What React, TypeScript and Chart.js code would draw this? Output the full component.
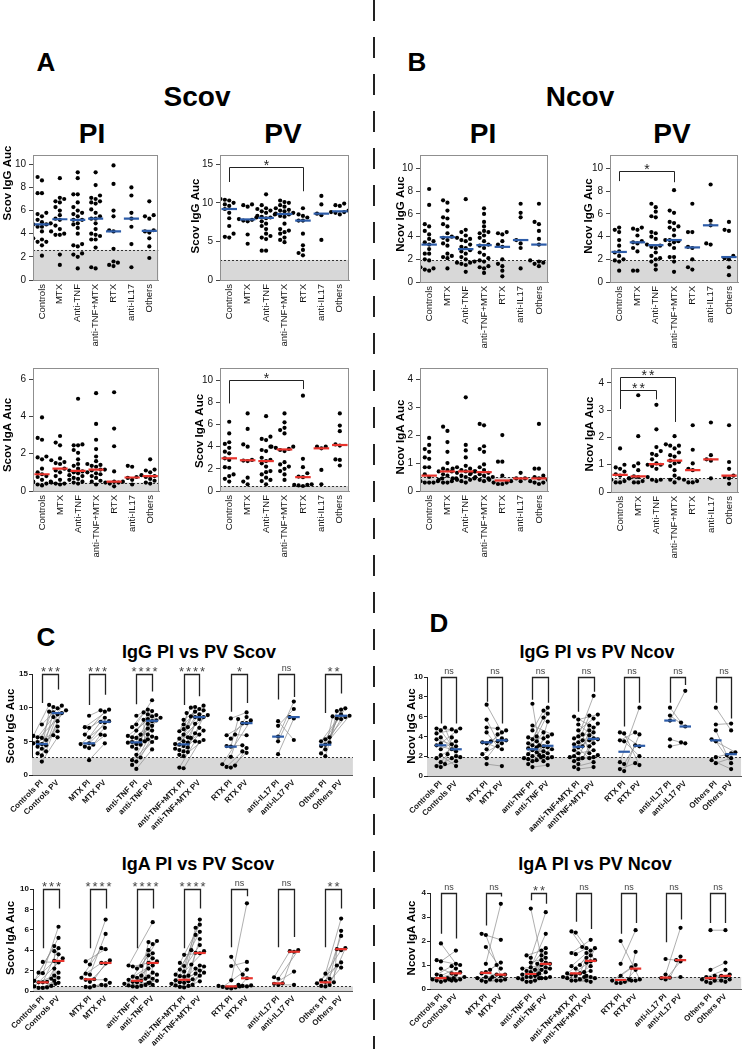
import React, { useEffect, useRef } from 'react';
import { Chart, registerables } from 'chart.js';

Chart.register(...registerables);

const FONT = '"Liberation Sans", Arial, Helvetica, sans-serif';
Chart.defaults.font.family = FONT;

// ---------- categories ----------
const groups = ['Controls', 'MTX', 'Anti-TNF', 'anti-TNF+MTX', 'RTX', 'anti-IL17', 'Others'];
const pairLabels = [
  'Controls PI', 'Controls PV', 'MTX PI', 'MTX PV', 'anti-TNF PI', 'anti-TNF PV',
  'anti-TNF+MTX PI', 'anti-TNF+MTX PV', 'RTX PI', 'RTX PV', 'anti-IL17 PI', 'anti-IL17 PV',
  'Others PI', 'Others PV',
];
const pairLabelsNcovIgG = [
  'Controls PI', 'Controls PV', 'MTX PI', 'MTX PV', 'anti-TNF PI', 'anti-TNF PV',
  'aanti-TNF+MTX PI', 'antiTNF+MTX PV', 'RTX PI', 'RTX PV', 'anti-IL17 PI', 'anti-IL17 PV',
  'Others PI', 'Others PV',
];

// ---------- A / B : per-group values ----------
const scovIgGPI = [
  [8.9, 8.6, 7.5, 7.5, 5.8, 5.7, 5.5, 5.2, 5.0, 4.9, 4.8, 4.8, 4.6, 4.6, 4.2, 3.6, 3.5, 3.3, 3.3, 3.0, 2.1],
  [8.8, 7.1, 7.0, 6.8, 6.7, 6.3, 6.0, 5.6, 5.3, 5.2, 4.7, 4.4, 4.2, 4.0, 3.9, 3.9, 2.2, 1.3],
  [9.3, 8.8, 7.4, 7.4, 6.7, 6.3, 6.0, 5.8, 5.7, 5.5, 5.2, 5.2, 4.9, 4.8, 4.5, 4.0, 3.1, 3.0, 2.9, 2.3, 2.2, 2.0, 1.0],
  [9.3, 8.2, 7.3, 7.1, 7.0, 6.8, 6.7, 6.6, 6.1, 5.8, 5.5, 5.3, 5.3, 4.9, 4.4, 4.0, 3.9, 3.8, 3.5, 3.5, 2.8, 1.1, 1.0],
  [9.9, 8.3, 6.0, 5.5, 4.3, 4.2, 2.7, 1.6, 1.5, 1.3, 1.2],
  [8.0, 7.3, 5.8, 5.3, 4.6, 3.1, 1.1],
  [6.8, 5.6, 5.5, 5.3, 4.3, 4.2, 4.1, 3.6, 2.9, 1.9],
];
const scovIgGPV = [
  [10.5, 10.4, 10.3, 10.0, 9.8, 9.6, 9.2, 8.7, 8.0, 7.0, 6.0, 5.6, 5.5],
  [9.8, 9.7, 9.5, 8.1, 7.9, 7.8, 7.7, 7.6, 5.9, 4.7],
  [11.1, 9.7, 9.3, 9.2, 9.0, 8.9, 8.7, 8.5, 8.3, 8.2, 8.1, 8.0, 7.6, 7.3, 7.0, 6.6, 6.0, 5.7, 5.5, 5.3, 3.8, 3.8],
  [10.3, 10.1, 10.0, 9.7, 9.5, 9.3, 9.1, 9.0, 8.9, 8.7, 8.6, 8.5, 8.3, 8.2, 7.3, 6.6, 6.4, 6.2, 6.0, 5.5, 5.2, 4.9],
  [9.3, 8.5, 8.3, 8.1, 7.7, 7.7, 6.0, 4.5, 3.9, 3.5, 3.2],
  [10.9, 9.8, 8.6, 8.4, 5.2],
  [9.9, 9.7, 9.6, 9.0, 8.8, 8.8, 8.7, 8.5],
];
const ncovIgGPI = [
  [8.2, 6.8, 5.1, 4.9, 4.5, 4.2, 3.8, 3.6, 3.5, 3.3, 2.9, 2.5, 2.5, 2.0, 1.9, 1.3, 1.2, 1.1, 1.0],
  [7.2, 7.0, 6.3, 5.7, 5.6, 5.1, 4.9, 4.3, 4.0, 3.9, 3.7, 3.4, 3.2, 2.5, 2.3, 2.2, 2.1, 1.2],
  [7.3, 4.6, 4.4, 4.1, 3.9, 3.8, 3.7, 3.6, 3.3, 3.1, 3.0, 2.8, 2.7, 2.5, 2.2, 2.0, 1.8, 1.7, 1.7, 1.6, 1.5, 0.9],
  [6.5, 6.0, 5.3, 4.9, 4.5, 4.4, 4.3, 4.1, 3.9, 3.6, 3.3, 3.2, 3.0, 2.6, 2.4, 2.1, 1.9, 1.8, 1.4, 1.3, 1.2, 0.8],
  [4.4, 4.3, 4.2, 3.6, 3.3, 3.1, 2.0, 1.6, 1.4, 1.0, 0.5],
  [6.9, 6.1, 5.7, 3.7, 3.4, 3.0, 1.2],
  [6.9, 5.3, 5.1, 4.5, 3.8, 3.3, 1.9, 1.8, 1.7, 1.6, 1.4],
];
const ncovIgGPV = [
  [4.8, 4.6, 4.4, 3.7, 3.2, 2.7, 2.6, 2.3, 2.0, 1.9, 1.8, 1.0],
  [4.8, 4.7, 4.6, 4.1, 3.6, 3.5, 3.4, 3.0, 2.7, 1.0, 1.0],
  [6.9, 6.6, 6.2, 5.8, 5.7, 4.4, 4.3, 4.0, 3.8, 3.3, 3.2, 3.1, 3.0, 2.6, 2.3, 2.1, 2.0, 1.8, 1.5, 1.1],
  [8.1, 6.3, 6.1, 5.3, 5.2, 4.9, 4.8, 4.6, 4.1, 3.7, 3.7, 3.6, 3.5, 3.3, 3.0, 2.2, 2.2, 1.8, 0.9],
  [6.9, 4.4, 4.4, 3.1, 3.0, 2.0, 1.3, 1.1],
  [8.6, 5.4, 5.0, 3.4, 3.3],
  [5.3, 4.6, 4.5, 2.3, 2.1, 2.0, 1.3, 0.6],
];
const scovIgAPI = [
  [3.95, 2.85, 2.75, 1.85, 1.8, 1.7, 1.2, 1.0, 0.9, 0.8, 0.75, 0.6, 0.5, 0.5, 0.4, 0.35, 0.3],
  [2.95, 2.6, 2.45, 1.75, 1.65, 1.55, 1.5, 1.45, 1.2, 1.1, 1.0, 0.8, 0.6, 0.45, 0.4, 0.4, 0.35],
  [4.95, 2.5, 2.45, 2.45, 2.2, 2.05, 1.7, 1.45, 1.35, 1.2, 1.1, 1.05, 1.0, 0.95, 0.85, 0.8, 0.7, 0.65, 0.6, 0.5, 0.45, 0.4],
  [5.25, 3.6, 2.75, 2.25, 1.85, 1.6, 1.45, 1.4, 1.35, 1.3, 1.15, 1.15, 1.1, 1.0, 0.95, 0.9, 0.8, 0.7, 0.55, 0.5, 0.35],
  [5.3, 3.35, 2.4, 1.05, 0.5, 0.5, 0.45, 0.45, 0.4, 0.25],
  [1.35, 1.3, 0.75, 0.7, 0.6, 0.35],
  [1.7, 1.15, 1.1, 1.0, 0.85, 0.8, 0.75, 0.65, 0.55, 0.45, 0.4],
];
const scovIgAPV = [
  [6.25, 5.2, 4.4, 4.25, 3.9, 3.55, 3.4, 2.95, 2.8, 2.15, 2.1, 1.5, 1.35, 1.1, 0.85],
  [7.0, 5.6, 4.2, 4.0, 2.8, 2.75, 2.7, 1.2, 0.85, 0.6],
  [6.75, 4.9, 4.7, 4.6, 4.0, 3.7, 3.6, 3.0, 2.8, 2.7, 2.5, 2.2, 1.8, 1.7, 1.5, 1.2, 1.0, 0.9, 0.6],
  [7.0, 6.2, 5.7, 5.5, 5.2, 4.0, 4.0, 3.9, 3.8, 3.7, 3.6, 2.6, 2.4, 2.2, 2.0, 1.8, 1.5, 1.0],
  [8.6, 2.9, 2.15, 1.6, 1.3, 1.25, 0.6, 0.55, 0.55, 0.5, 0.45],
  [4.0, 4.0, 3.85, 1.9, 0.6],
  [7.0, 5.9, 5.4, 4.2, 4.1, 2.85, 2.8, 2.3],
];
const ncovIgAPI = [
  [1.9, 1.65, 1.5, 1.4, 1.2, 1.15, 0.85, 0.85, 0.6, 0.5, 0.45, 0.45, 0.4, 0.35, 0.35, 0.3, 0.3, 0.3],
  [2.3, 2.15, 1.75, 1.4, 1.0, 0.8, 0.75, 0.7, 0.7, 0.6, 0.55, 0.45, 0.4, 0.35, 0.3, 0.3],
  [3.35, 1.65, 1.45, 1.2, 0.9, 0.85, 0.8, 0.8, 0.75, 0.7, 0.7, 0.65, 0.6, 0.55, 0.5, 0.45, 0.45, 0.4, 0.4, 0.35, 0.3],
  [2.4, 2.35, 1.6, 1.5, 1.4, 0.95, 0.85, 0.75, 0.7, 0.65, 0.65, 0.6, 0.55, 0.5, 0.5, 0.45, 0.4, 0.35],
  [2.0, 1.05, 1.05, 0.55, 0.4, 0.35, 0.3, 0.3, 0.25, 0.25],
  [0.65, 0.45, 0.45, 0.35],
  [2.4, 0.8, 0.8, 0.55, 0.5, 0.45, 0.4, 0.35, 0.3, 0.3, 0.25],
];
const ncovIgAPV = [
  [1.6, 1.0, 0.9, 0.85, 0.75, 0.65, 0.6, 0.5, 0.45, 0.4, 0.35, 0.35],
  [3.55, 2.05, 1.05, 0.95, 0.8, 0.57, 0.55, 0.5, 0.4, 0.35, 0.35],
  [3.2, 2.3, 1.65, 1.5, 1.4, 1.35, 1.2, 1.05, 1.0, 1.0, 0.95, 0.85, 0.55, 0.45, 0.45, 0.4],
  [2.05, 1.75, 1.7, 1.7, 1.6, 1.45, 1.35, 1.3, 1.15, 1.1, 1.05, 0.95, 0.8, 0.6, 0.5, 0.45, 0.35],
  [2.45, 1.55, 1.05, 0.85, 0.8, 0.45, 0.4, 0.35, 0.35],
  [2.55, 1.35, 1.2, 1.15, 0.5],
  [2.45, 1.1, 0.85, 0.6, 0.55, 0.5, 0.3],
];

// ---------- C / D : paired subjects (index i of PI pairs with index i of PV) ----------
const pairScovIgGPI = [
  [7.5, 5.8, 5.6, 5.5, 5.2, 4.9, 4.7, 4.6, 4.4, 4.2, 3.9, 3.5, 3.2, 2.9, 2.0],
  [8.8, 7.1, 7.0, 6.0, 5.6, 4.7, 4.6, 4.5, 4.2, 4.0, 2.2],
  [8.8, 7.5, 7.1, 6.6, 6.0, 5.8, 5.6, 5.5, 5.2, 5.0, 4.9, 4.8, 4.6, 4.5, 4.2, 3.9, 3.0, 2.6, 2.2, 2.0, 1.5, 0.9],
  [8.2, 7.5, 7.1, 6.8, 6.5, 6.0, 5.6, 5.4, 5.0, 4.8, 4.6, 4.5, 4.3, 4.1, 3.9, 3.7, 3.5, 3.4, 3.0, 2.8, 1.1, 1.0],
  [8.4, 6.0, 5.9, 5.4, 4.3, 4.2, 2.7, 1.6, 1.4, 1.2, 1.1],
  [8.0, 7.3, 5.7, 5.0, 3.1],
  [5.6, 5.3, 5.0, 4.8, 4.5, 4.3, 3.8, 3.2, 2.8],
];
const pairScovIgGPV = [
  [9.9, 10.4, 8.6, 10.1, 9.3, 6.5, 9.6, 10.3, 9.2, 5.9, 9.4, 8.0, 7.2, 9.0, 5.6],
  [9.6, 9.7, 8.5, 9.4, 7.9, 7.0, 8.0, 6.0, 7.8, 5.9, 4.7],
  [9.7, 11.1, 9.3, 8.3, 9.5, 8.7, 9.0, 6.6, 8.9, 8.2, 7.3, 8.5, 6.9, 8.1, 8.0, 7.6, 6.0, 5.7, 5.5, 5.3, 4.9, 3.8],
  [10.3, 9.8, 10.1, 9.4, 10.0, 8.6, 9.6, 8.9, 9.2, 7.6, 9.0, 8.7, 6.6, 8.6, 8.3, 6.2, 7.0, 5.5, 6.0, 5.2, 5.0, 4.9],
  [9.3, 5.9, 7.7, 8.6, 4.4, 8.3, 7.7, 8.1, 4.0, 3.5, 3.3],
  [5.2, 9.8, 10.9, 8.6, 8.4],
  [9.7, 9.9, 9.0, 9.5, 8.8, 8.6, 8.7, 8.3, 8.4],
];
const pairNcovIgGPI = [
  [4.9, 4.8, 4.6, 4.3, 3.9, 3.7, 3.3, 3.1, 2.7, 2.1, 1.8, 1.4, 1.2, 1.0, 0.9],
  [7.2, 5.7, 4.9, 4.4, 3.5, 3.4, 3.3, 2.7, 2.2, 1.8, 1.2],
  [7.3, 5.1, 4.6, 4.0, 3.9, 3.7, 3.5, 3.3, 3.1, 2.9, 2.8, 2.6, 2.4, 2.2, 2.0, 1.9, 1.8, 1.7, 1.6, 1.5, 1.2, 0.9],
  [6.0, 5.7, 5.2, 4.6, 4.2, 4.0, 3.8, 3.6, 3.4, 3.2, 3.0, 2.9, 2.6, 2.3, 2.0, 1.9, 1.8, 1.7, 1.5, 1.2, 0.9, 0.7],
  [4.4, 4.3, 3.6, 3.5, 1.4, 1.2, 0.7, 0.5],
  [6.9, 6.1, 5.6, 3.7, 3.0],
  [6.9, 5.2, 4.6, 3.7, 3.5, 1.9, 1.6, 1.3],
];
const pairNcovIgGPV = [
  [2.0, 4.7, 2.5, 4.8, 1.9, 3.2, 4.5, 2.7, 3.5, 1.0, 3.0, 2.2, 3.9, 1.8, 1.5],
  [4.4, 3.5, 4.8, 3.0, 4.6, 3.6, 2.7, 4.2, 3.3, 3.8, 1.0],
  [3.1, 4.2, 6.6, 2.0, 3.8, 6.9, 2.5, 1.9, 4.4, 3.0, 5.9, 2.3, 3.4, 6.3, 2.9, 1.5, 4.0, 2.7, 5.5, 1.8, 2.1, 1.1],
  [4.9, 6.2, 3.7, 5.8, 2.3, 8.1, 4.4, 3.0, 6.1, 1.8, 5.3, 3.6, 4.1, 2.6, 5.1, 1.9, 3.8, 4.6, 2.1, 3.3, 1.4, 0.9],
  [3.0, 1.1, 4.4, 2.0, 6.9, 3.1, 1.3, 4.2],
  [5.4, 5.0, 8.6, 3.4, 3.3],
  [4.6, 5.3, 2.1, 2.4, 1.3, 2.3, 0.7, 1.8],
];
const pairScovIgAPI = [
  [2.85, 1.8, 1.75, 1.2, 1.0, 0.9, 0.85, 0.85, 0.7, 0.6, 0.5, 0.45, 0.35, 0.3, 0.3],
  [2.9, 2.6, 1.7, 1.6, 1.3, 1.15, 1.1, 0.9, 0.5, 0.4, 0.35],
  [2.5, 2.45, 2.4, 2.2, 1.5, 1.4, 1.3, 1.2, 1.1, 1.0, 0.9, 0.85, 0.8, 0.7, 0.6, 0.55, 0.5, 0.45, 0.4],
  [3.55, 2.75, 2.45, 2.1, 1.9, 1.6, 1.5, 1.45, 1.4, 1.15, 1.05, 0.95, 0.85, 0.8, 0.7, 0.6, 0.55, 0.5, 0.4, 0.35],
  [3.35, 2.45, 1.05, 0.5, 0.45, 0.4, 0.35, 0.3, 0.25],
  [1.35, 1.2, 0.75, 0.7, 0.6],
  [1.7, 1.2, 1.05, 0.9, 0.85, 0.75, 0.6, 0.5, 0.45],
];
const pairScovIgAPV = [
  [2.8, 4.4, 6.3, 3.6, 5.2, 2.2, 4.2, 1.5, 3.9, 2.95, 1.8, 3.2, 1.0, 1.3, 0.8],
  [4.1, 7.0, 2.75, 5.6, 4.2, 2.7, 1.1, 3.0, 0.8, 0.6, 0.55],
  [6.75, 4.9, 2.75, 4.6, 4.8, 3.5, 2.2, 4.0, 2.9, 3.7, 1.8, 3.2, 2.5, 1.4, 1.6, 1.0, 1.2, 0.8, 0.6],
  [3.7, 6.5, 7.0, 5.8, 6.2, 4.0, 5.1, 3.9, 5.5, 2.5, 4.5, 3.75, 2.2, 2.6, 1.7, 2.4, 2.0, 1.8, 1.5, 0.95],
  [1.6, 2.85, 8.6, 0.5, 1.25, 2.1, 0.6, 0.45, 0.55],
  [3.9, 4.0, 3.85, 1.9, 0.6],
  [7.1, 5.9, 4.0, 5.4, 4.1, 2.8, 4.2, 2.5, 2.3],
];
const pairNcovIgAPI = [
  [1.9, 1.2, 1.15, 0.85, 0.6, 0.55, 0.45, 0.45, 0.4, 0.4, 0.35, 0.35, 0.3],
  [2.3, 2.25, 1.75, 1.05, 0.8, 0.7, 0.65, 0.5, 0.45, 0.4, 0.35, 0.3],
  [3.35, 1.4, 1.3, 1.1, 0.9, 0.85, 0.8, 0.75, 0.7, 0.65, 0.6, 0.55, 0.5, 0.5, 0.45, 0.45, 0.4, 0.35, 0.3, 0.3],
  [2.4, 2.35, 1.5, 1.45, 1.0, 0.95, 0.85, 0.7, 0.65, 0.65, 0.6, 0.55, 0.5, 0.5, 0.45, 0.4, 0.35, 0.35],
  [2.0, 1.05, 0.55, 0.4, 0.35, 0.3, 0.25, 0.25],
  [1.25, 0.6, 0.47, 0.45, 0.4],
  [2.45, 0.8, 0.55, 0.5, 0.45, 0.4, 0.35, 0.3, 0.25],
];
const pairNcovIgAPV = [
  [1.05, 1.0, 1.6, 0.65, 0.95, 0.85, 0.5, 0.4, 0.7, 0.35, 0.6, 0.45, 0.35],
  [2.05, 0.55, 0.85, 3.55, 1.0, 1.1, 0.6, 0.6, 0.4, 0.5, 0.35, 0.35],
  [0.45, 1.6, 3.2, 1.3, 2.3, 1.05, 1.4, 1.7, 0.9, 1.2, 1.1, 1.5, 1.0, 0.85, 1.05, 0.8, 0.6, 0.5, 0.7, 0.45],
  [1.75, 1.2, 2.05, 1.7, 1.6, 1.5, 0.55, 1.7, 1.3, 1.4, 1.15, 0.95, 1.1, 0.75, 0.5, 0.45, 0.35, 0.3],
  [0.4, 2.45, 1.0, 1.55, 0.9, 0.8, 0.35, 0.35],
  [1.2, 2.55, 1.35, 0.5, 1.15],
  [2.45, 1.1, 0.55, 0.8, 0.6, 0.4, 0.5, 0.3, 0.35],
];

// significance of each PI vs PV comparison
const sigScovIgG = ['***', '***', '****', '****', '*', 'ns', '**'];
const sigNcovIgG = ['ns', 'ns', 'ns', 'ns', 'ns', 'ns', 'ns'];
const sigScovIgA = ['***', '****', '****', '****', 'ns', 'ns', '**'];
const sigNcovIgA = ['ns', 'ns', '**', 'ns', 'ns', 'ns', 'ns'];

// positivity cut-offs
const cutScovIgG = 2.6;
const cutNcovIgG = 1.9;
const cutScovIgA = 0.45;
const cutNcovIgA = 0.5;

const BLUE = '#2d5ca8';
const RED = '#e8332c';

type Area = { l: number; t: number; r: number; b: number };
type Bracket = { from: number; to: number; y: number; l: number; r: number; text: string };
interface Base {
  area: Area; yMax: number; yStep: number; cut: number; color: string;
  yTitle: string; tx: number; ty: number;
}
interface DotPanel extends Base { kind: 'dot'; values: number[][]; brackets: Bracket[] }
interface PairPanel extends Base {
  kind: 'pair'; pi: number[][]; pv: number[][]; labels: string[]; sig: string[];
  legs: number[][]; xMin: number; xMax: number;
}
type Panel = DotPanel | PairPanel;

const panels: Panel[] = [
  { kind: 'dot', values: scovIgGPI, area: { l: 33, t: 155, r: 165, b: 280 }, yMax: 10.8, yStep: 2, cut: cutScovIgG, color: BLUE, yTitle: 'Scov IgG Auc', tx: 8, ty: 183, brackets: [] },
  { kind: 'dot', values: scovIgGPV, area: { l: 220, t: 155, r: 356, b: 280 }, yMax: 16.2, yStep: 5, cut: cutScovIgG, color: BLUE, yTitle: 'Scov IgG Auc', tx: 196, ty: 216, brackets: [{ from: 0, to: 4, y: 14.7, l: 12.7, r: 11.5, text: '*' }] },
  { kind: 'dot', values: ncovIgGPI, area: { l: 420, t: 155, r: 555, b: 282 }, yMax: 11.2, yStep: 2, cut: cutNcovIgG, color: BLUE, yTitle: 'Ncov IgG Auc', tx: 401, ty: 214, brackets: [] },
  { kind: 'dot', values: ncovIgGPV, area: { l: 610, t: 155, r: 745, b: 282 }, yMax: 11.2, yStep: 2, cut: cutNcovIgG, color: BLUE, yTitle: 'Ncov IgG Auc', tx: 589, ty: 216, brackets: [{ from: 0, to: 3, y: 9.8, l: 8.9, r: 8.8, text: '*' }] },
  { kind: 'dot', values: scovIgAPI, area: { l: 33, t: 368, r: 166, b: 491 }, yMax: 6.6, yStep: 2, cut: cutScovIgA, color: RED, yTitle: 'Scov IgA Auc', tx: 8, ty: 435, brackets: [] },
  { kind: 'dot', values: scovIgAPV, area: { l: 220, t: 368, r: 356, b: 491 }, yMax: 11.1, yStep: 2, cut: cutScovIgA, color: RED, yTitle: 'Scov IgA Auc', tx: 200, ty: 431, brackets: [{ from: 0, to: 4, y: 10.05, l: 7.9, r: 9.2, text: '*' }] },
  { kind: 'dot', values: ncovIgAPI, area: { l: 420, t: 368, r: 555, b: 491 }, yMax: 4.4, yStep: 1, cut: cutNcovIgA, color: RED, yTitle: 'Ncov IgA Auc', tx: 401, ty: 437, brackets: [] },
  { kind: 'dot', values: ncovIgAPV, area: { l: 611, t: 368, r: 745, b: 492 }, yMax: 4.55, yStep: 1, cut: cutNcovIgA, color: RED, yTitle: 'Ncov IgA Auc', tx: 590, ty: 434, brackets: [{ from: 0, to: 3, y: 4.22, l: 3.05, r: 2.57, text: '**' }, { from: 0, to: 2, y: 3.75, l: 3.05, r: 3.4, text: '**' }] },
  { kind: 'pair', pi: pairScovIgGPI, pv: pairScovIgGPV, labels: pairLabels, sig: sigScovIgG, legs: [[10.7, 12.7], [10.4, 11.9], [10.5, 12.4], [10.4, 11.7], [9.4, 10.7], [11.2, 11.6], [9.2, 12.1]], area: { l: 32, t: 674, r: 358, b: 775 }, xMin: -0.625, xMax: 19.75, yMax: 15, yStep: 5, cut: cutScovIgG, color: BLUE, yTitle: 'Scov IgG Auc', tx: 11, ty: 726 },
  { kind: 'pair', pi: pairNcovIgGPI, pv: pairNcovIgGPV, labels: pairLabelsNcovIgG, sig: sigNcovIgG, legs: [[5.3, 5.3], [7.5, 5.3], [7.7, 7.4], [6.5, 8.5], [5.0, 7.4], [7.4, 9.2], [7.4, 5.8]], area: { l: 427, t: 677, r: 746, b: 776 }, xMin: -0.9, xMax: 19.65, yMax: 10, yStep: 2, cut: cutNcovIgG, color: BLUE, yTitle: 'Ncov IgG Auc', tx: 412, ty: 726 },
  { kind: 'pair', pi: pairScovIgAPI, pv: pairScovIgAPV, labels: pairLabels, sig: sigScovIgA, legs: [[4.2, 8.1], [4.2, 8.1], [4.2, 8.1], [4.2, 8.1], [4.3, 9.3], [4.3, 5.3], [4.3, 8.1]], area: { l: 33, t: 889, r: 358, b: 991 }, xMin: -0.625, xMax: 19.75, yMax: 10, yStep: 2, cut: cutScovIgA, color: RED, yTitle: 'Scov IgA Auc', tx: 11, ty: 938 },
  { kind: 'pair', pi: pairNcovIgAPI, pv: pairNcovIgAPV, labels: pairLabels, sig: sigNcovIgA, legs: [[2.3, 2.1], [2.65, 3.85], [3.7, 3.55], [2.8, 2.5], [2.3, 2.75], [1.95, 2.9], [2.75, 2.75]], area: { l: 430, t: 893, r: 746, b: 989 }, xMin: -0.73, xMax: 20.05, yMax: 4, yStep: 1, cut: cutNcovIgA, color: RED, yTitle: 'Ncov IgA Auc', tx: 412, ty: 938 },
];

const median = (a: number[]) => {
  const s = [...a].sort((p, q) => p - q);
  const n = s.length;
  return n % 2 ? s[(n - 1) / 2] : (s[n / 2 - 1] + s[n / 2]) / 2;
};

// Horizontal spread (beeswarm) so that neighbouring dots do not overlap; returns px offsets
function swarm(vals: number[], pxY: number, d: number): number[] {
  const order = vals.map((_, i) => i).sort((a, b) => vals[a] - vals[b]);
  const placed: { x: number; y: number }[] = [];
  const out = new Array(vals.length).fill(0);
  for (const i of order) {
    const py = vals[i] * pxY;
    let chosen = 0;
    for (let step = 0; step < 60; step++) {
      const cand = step === 0 ? 0 : (step % 2 === 1 ? -1 : 1) * Math.ceil(step / 2) * d;
      if (placed.every((p) => (p.x - cand) ** 2 + (p.y - py) ** 2 >= d * d * 0.96)) {
        chosen = cand;
        break;
      }
    }
    placed.push({ x: chosen, y: py });
    out[i] = chosen;
  }
  return out;
}

interface Geo { left: number; top: number; w: number; h: number; yW: number; padTop: number; padR: number; xH: number }

function geometry(p: Panel): Geo {
  const padTop = p.kind === 'dot' ? 32 : 22;
  const padR = 3;
  const xH = p.kind === 'dot' ? 78 : 62;
  const left = Math.floor(p.tx - 9);
  const top = p.area.t - padTop;
  return { left, top, w: p.area.r + padR - left, h: p.area.b + xH - top, yW: p.area.l - left, padTop, padR, xH };
}

const zeroPad = (s: any) => {
  s.paddingLeft = 0; s.paddingRight = 0; s.paddingTop = 0; s.paddingBottom = 0;
};

function starBaseline(text: string, by: number, size: number, gap: number) {
  return text.includes('*') ? by - gap + 0.58 * size : by - 4;
}

function buildConfig(p: Panel, g: Geo): any {
  const a = p.area;
  const pxY = (a.b - a.t) / p.yMax;
  const datasets: any[] = [];
  let xMin: number, xMax: number, tickPos: number[], tickLabels: string[], medR: number;

  if (p.kind === 'dot') {
    xMin = -0.5; xMax = 6.5;
    const pxX = (a.r - a.l) / 7;
    medR = 0.4 * pxX;
    tickPos = groups.map((_, i) => i);
    tickLabels = groups;
    const pts: any[] = [];
    const meds: any[] = [];
    p.values.forEach((vals, gi) => {
      const off = swarm(vals, pxY, 4.6);
      vals.forEach((v, j) => pts.push({ x: gi + off[j] / pxX, y: v }));
      meds.push({ x: gi, y: median(vals) });
    });
    datasets.push(
      { data: meds, pointStyle: 'line', pointRadius: medR, borderColor: p.color, backgroundColor: p.color, pointBorderWidth: 2.2 },
      { data: pts, pointRadius: 2.1, backgroundColor: '#000', pointBorderWidth: 0 },
    );
  } else {
    xMin = p.xMin; xMax = p.xMax;
    const pxX = (a.r - a.l) / (xMax - xMin);
    medR = 0.37 * pxX;
    tickPos = [];
    for (let gi = 0; gi < 7; gi++) tickPos.push(3 * gi, 3 * gi + 1);
    tickLabels = p.labels;
    const pts: any[] = [];
    const lines: any[] = [];
    const meds: any[] = [];
    p.pi.forEach((piVals, gi) => {
      const pvVals = p.pv[gi];
      const o1 = swarm(piVals, pxY, 4.3);
      const o2 = swarm(pvVals, pxY, 4.3);
      piVals.forEach((v, i) => {
        const x1 = 3 * gi + o1[i] / pxX;
        const x2 = 3 * gi + 1 + o2[i] / pxX;
        pts.push({ x: x1, y: v }, { x: x2, y: pvVals[i] });
        lines.push({ x: x1, y: v }, { x: x2, y: pvVals[i] }, { x: x2, y: null });
      });
      meds.push({ x: 3 * gi, y: median(piVals) }, { x: 3 * gi + 1, y: median(pvVals) });
    });
    datasets.push(
      { data: meds, pointStyle: 'line', pointRadius: medR, borderColor: p.color, backgroundColor: p.color, pointBorderWidth: 2.2 },
      { data: pts, pointRadius: 2.1, backgroundColor: '#000', pointBorderWidth: 0 },
      { data: lines, showLine: true, spanGaps: false, borderColor: '#8c8c8c', borderWidth: 0.7, pointRadius: 0, fill: false },
    );
  }

  const isDot = p.kind === 'dot';
  const axisGray = '#8f8f8f';

  const decor = {
    id: 'decor',
    beforeDatasetsDraw(chart: any) {
      const { ctx, chartArea: ca, scales } = chart;
      const ty = scales.y.getPixelForValue(p.cut);
      ctx.save();
      ctx.fillStyle = '#d8d8d8';
      ctx.fillRect(ca.left, ty, ca.right - ca.left, ca.bottom - ty);
      ctx.strokeStyle = '#333';
      ctx.lineWidth = 1;
      ctx.setLineDash([2, 2]);
      ctx.beginPath();
      ctx.moveTo(ca.left, Math.round(ty) + 0.5);
      ctx.lineTo(ca.right, Math.round(ty) + 0.5);
      ctx.stroke();
      ctx.restore();
    },
    afterDraw(chart: any) {
      const { ctx, chartArea: ca, scales } = chart;
      const xs = scales.x;
      const ys = scales.y;
      ctx.save();
      if (isDot) {
        ctx.strokeStyle = axisGray;
        ctx.lineWidth = 1;
        ctx.strokeRect(Math.round(ca.left) + 0.5, Math.round(ca.top) + 0.5, Math.round(ca.right - ca.left) - 1, Math.round(ca.bottom - ca.top));
      }
      // significance brackets
      const list: Bracket[] = [];
      if (p.kind === 'dot') list.push(...p.brackets);
      else p.sig.forEach((s, gi) => list.push({ from: 3 * gi, to: 3 * gi + 1, y: p.yMax, l: p.legs[gi][0], r: p.legs[gi][1], text: s }));
      ctx.strokeStyle = '#222';
      ctx.lineWidth = isDot ? 1 : 1.3;
      ctx.fillStyle = isDot ? '#222' : '#444';
      ctx.textAlign = 'center';
      ctx.textBaseline = 'alphabetic';
      for (const b of list) {
        const x1 = Math.round(xs.getPixelForValue(b.from)) + 0.5;
        const x2 = Math.round(xs.getPixelForValue(b.to)) + 0.5;
        const by = Math.round(ys.getPixelForValue(b.y)) + 0.5;
        ctx.beginPath();
        ctx.moveTo(x1, ys.getPixelForValue(b.l));
        ctx.lineTo(x1, by);
        ctx.lineTo(x2, by);
        ctx.lineTo(x2, ys.getPixelForValue(b.r));
        ctx.stroke();
        const star = b.text.includes('*');
        const size = star ? (isDot ? 14 : 13) : 9;
        ctx.font = `${size}px ${FONT}`;
        (ctx as any).letterSpacing = star ? '2px' : '0px';
        ctx.fillText(b.text, (x1 + x2) / 2 + (star ? 1 : 0), starBaseline(b.text, by, size, isDot ? 5.5 : 6.5));
      }
      (ctx as any).letterSpacing = '0px';
      // y-axis title
      ctx.translate(p.tx - g.left, p.ty - g.top);
      ctx.rotate(-Math.PI / 2);
      ctx.font = `bold 11.5px ${FONT}`;
      ctx.fillStyle = '#000';
      ctx.textAlign = 'center';
      ctx.textBaseline = 'middle';
      ctx.fillText(p.yTitle, 0, 0);
      ctx.restore();
    },
  };

  return {
    type: 'scatter',
    data: { datasets },
    options: {
      responsive: false,
      animation: false,
      devicePixelRatio: 1,
      events: [],
      layout: { padding: { left: 0, top: g.padTop, right: g.padR, bottom: 0 } },
      plugins: { legend: { display: false }, tooltip: { enabled: false }, title: { display: false } },
      scales: {
        x: {
          type: 'linear',
          min: xMin,
          max: xMax,
          afterBuildTicks: (s: any) => { s.ticks = tickPos.map((v) => ({ value: v })); },
          afterFit: (s: any) => { s.height = g.xH; zeroPad(s); },
          ticks: {
            autoSkip: false,
            minRotation: isDot ? 90 : 45,
            maxRotation: isDot ? 90 : 45,
            padding: isDot ? 4 : 3,
            color: '#111',
            font: isDot ? { size: 9.5 } : { size: 8, weight: 'bold' },
            callback: (_v: any, i: number) => tickLabels[i],
          },
          grid: { display: false, drawTicks: false },
          border: { display: true, color: isDot ? axisGray : '#555', width: 1 },
        },
        y: {
          type: 'linear',
          min: 0,
          max: p.yMax,
          afterFit: (s: any) => { s.width = g.yW; zeroPad(s); },
          ticks: {
            stepSize: p.yStep,
            includeBounds: false,
            padding: isDot ? 3 : 1,
            color: '#111',
            font: isDot ? { size: 10 } : { size: 8, weight: 'bold' },
          },
          grid: { display: true, drawOnChartArea: false, drawTicks: true, tickLength: isDot ? 4 : 3, color: isDot ? '#444' : '#222' },
          border: { display: true, color: isDot ? axisGray : '#222', width: 1 },
          title: { display: false },
        },
      },
    },
    plugins: [decor],
  };
}

const Txt = ({ x, y, size, children }: { x: number; y: number; size: number; children: React.ReactNode }) => (
  <div
    style={{
      position: 'absolute', left: x, top: y, transform: 'translate(-50%, -50%)',
      fontSize: size, fontWeight: 700, lineHeight: 1, whiteSpace: 'nowrap', color: '#000',
    }}
  >
    {children}
  </div>
);

export default function App() {
  const refs = useRef<(HTMLCanvasElement | null)[]>([]);
  const geos = panels.map(geometry);

  useEffect(() => {
    const charts = panels.map((p, i) => {
      const c = refs.current[i];
      return c ? new Chart(c, buildConfig(p, geos[i])) : null;
    });
    return () => charts.forEach((ch) => ch && ch.destroy());
  }, []);

  return (
    <div
      style={{
        position: 'absolute', left: 0, top: 0, width: 747, height: 1049, overflow: 'hidden',
        background: '#fff', fontFamily: FONT,
      }}
    >
      {/* divider between Scov and Ncov halves */}
      <div
        style={{
          position: 'absolute', left: 373, top: 0, width: 2, height: 1049,
          background: 'repeating-linear-gradient(to bottom, #222 0px, #222 21px, transparent 21px, transparent 37px)',
        }}
      />
      <Txt x={46} y={62} size={26}>A</Txt>
      <Txt x={417} y={62} size={26}>B</Txt>
      <Txt x={197} y={97} size={28}>Scov</Txt>
      <Txt x={580} y={97} size={28}>Ncov</Txt>
      <Txt x={92} y={134} size={28}>PI</Txt>
      <Txt x={283} y={134} size={28}>PV</Txt>
      <Txt x={483} y={134} size={28}>PI</Txt>
      <Txt x={672} y={134} size={28}>PV</Txt>
      <Txt x={46} y={637} size={26}>C</Txt>
      <Txt x={439} y={623} size={26}>D</Txt>
      <Txt x={199} y={652} size={18}>IgG PI vs PV Scov</Txt>
      <Txt x={597} y={652} size={18}>IgG PI vs PV Ncov</Txt>
      <Txt x={198} y={864} size={18}>IgA PI vs PV Scov</Txt>
      <Txt x={595} y={864} size={18}>IgA PI vs PV Ncov</Txt>
      {panels.map((_, i) => {
        const g = geos[i];
        return (
          <canvas
            key={i}
            ref={(el) => { refs.current[i] = el; }}
            width={g.w}
            height={g.h}
            style={{ position: 'absolute', left: g.left, top: g.top, width: g.w, height: g.h }}
          />
        );
      })}
    </div>
  );
}
